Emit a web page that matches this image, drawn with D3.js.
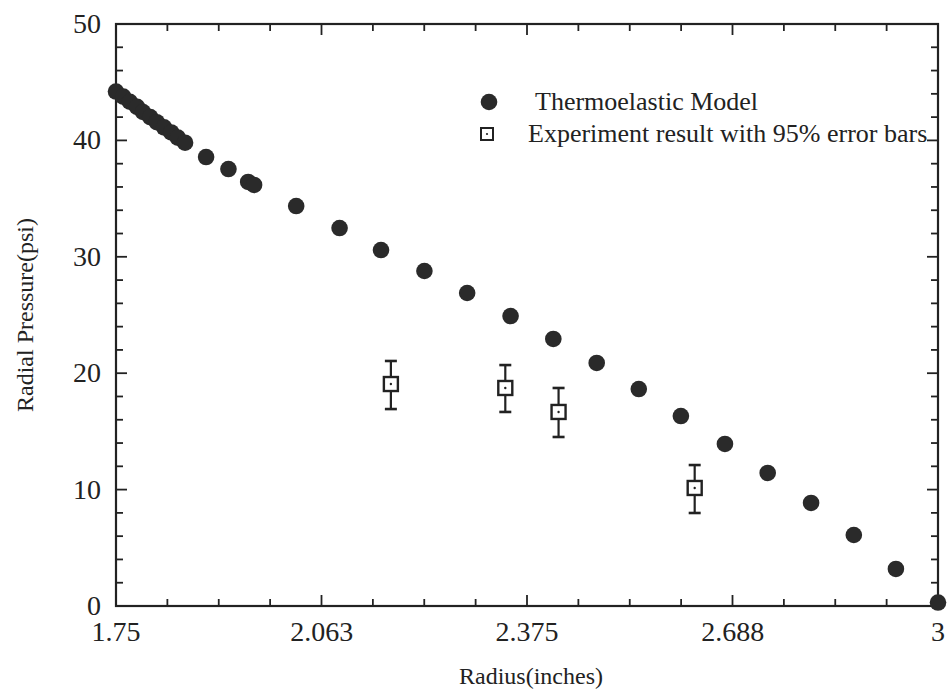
<!DOCTYPE html>
<html>
<head>
<meta charset="utf-8">
<script src="https://cdn.jsdelivr.net/npm/d3@7"></script>
<style>
  html, body { margin: 0; padding: 0; background: #fff; }
  svg text { font-family: "Liberation Serif", "DejaVu Serif", serif; fill: #222; }
</style>
</head>
<body>
<svg id="chart" width="949" height="693"></svg>
<script>
// Thermoelastic model: radius (inches) and radial pressure (psi)
const modelRadius = [1.750, 1.761, 1.771, 1.782, 1.791, 1.802, 1.812, 1.823, 1.834, 1.844, 1.855,
  1.887, 1.921, 1.951, 1.960, 2.024, 2.090, 2.153, 2.219, 2.284, 2.350, 2.415, 2.481,
  2.545, 2.609, 2.676, 2.741, 2.807, 2.872, 2.936, 3.000];
const modelPressure = [44.2, 43.76, 43.32, 42.88, 42.44, 42.0, 41.56, 41.12, 40.68, 40.24, 39.8,
  38.57, 37.54, 36.43, 36.17, 34.36, 32.47, 30.58, 28.78, 26.89, 24.91, 22.94, 20.88,
  18.64, 16.32, 13.92, 11.43, 8.85, 6.10, 3.18, 0.3];

// Experiment results with 95% error bars
const expRadius = [2.168, 2.342, 2.423, 2.630];
const expPressure = [19.07, 18.73, 16.67, 10.14];
const expLower = [16.92, 16.67, 14.52, 7.99];
const expUpper = [21.05, 20.70, 18.73, 12.11];

const xMajorTicks = [1.75, 2.063, 2.375, 2.688, 3];
const xTickLabels = ["1.75", "2.063", "2.375", "2.688", "3"];
const yMajorTicks = [0, 10, 20, 30, 40, 50];

const legendLabels = ["Thermoelastic Model", "Experiment result with 95% error bars"];

const svg = d3.select("#chart");
const plotL = 116, plotR = 938, plotT = 24, plotB = 606;
const ink = "#222";

const x = d3.scaleLinear().domain([1.75, 3]).range([plotL, plotR]);
const y = d3.scaleLinear().domain([0, 50]).range([plotB, plotT]);

const xMinor = d3.range(0, 17).map(i => 1.75 + i * 0.078125);
const yMinor = d3.range(0, 26).map(i => i * 2);

// frame
svg.append("rect")
  .attr("x", plotL).attr("y", plotT)
  .attr("width", plotR - plotL).attr("height", plotB - plotT)
  .attr("fill", "none").attr("stroke", ink).attr("stroke-width", 2.2);

// inward ticks on all four sides
function tickLen(isMajor) { return isMajor ? 11 : 7; }
const isXMajor = v => xMajorTicks.some(t => Math.abs(t - v) < 0.01);
const isYMajor = v => v % 10 === 0;

const ticks = svg.append("g").attr("stroke", ink).attr("stroke-width", 1.8);
xMinor.forEach(v => {
  const L = tickLen(isXMajor(v));
  ticks.append("line").attr("x1", x(v)).attr("x2", x(v)).attr("y1", plotB).attr("y2", plotB - L);
  ticks.append("line").attr("x1", x(v)).attr("x2", x(v)).attr("y1", plotT).attr("y2", plotT + L);
});
yMinor.forEach(v => {
  const L = tickLen(isYMajor(v));
  ticks.append("line").attr("y1", y(v)).attr("y2", y(v)).attr("x1", plotL).attr("x2", plotL + L);
  ticks.append("line").attr("y1", y(v)).attr("y2", y(v)).attr("x1", plotR).attr("x2", plotR - L);
});

// tick labels
svg.append("g").selectAll("text").data(xMajorTicks).join("text")
  .attr("x", d => x(d)).attr("y", plotB + 35)
  .attr("text-anchor", "middle").attr("font-size", 28)
  .text((d, i) => xTickLabels[i]);

svg.append("g").selectAll("text").data(yMajorTicks).join("text")
  .attr("x", plotL - 15).attr("y", d => y(d) + 9)
  .attr("text-anchor", "end").attr("font-size", 28)
  .text(d => d);

// axis titles
svg.append("text")
  .attr("x", 531).attr("y", 684)
  .attr("text-anchor", "middle").attr("font-size", 24)
  .text("Radius(inches)");

svg.append("text")
  .attr("transform", `translate(33, ${(plotT + plotB) / 2}) rotate(-90)`)
  .attr("text-anchor", "middle").attr("font-size", 24)
  .text("Radial Pressure(psi)");

// model points
svg.append("g").selectAll("circle").data(modelRadius).join("circle")
  .attr("cx", d => x(d)).attr("cy", (d, i) => y(modelPressure[i]))
  .attr("r", 8.3).attr("fill", "#2a2a2a");

// experiment error bars and squares
const exp = svg.append("g").attr("stroke", ink);
expRadius.forEach((r, i) => {
  const cx = x(r);
  exp.append("line").attr("x1", cx).attr("x2", cx)
    .attr("y1", y(expLower[i])).attr("y2", y(expUpper[i])).attr("stroke-width", 2.2);
  [expLower[i], expUpper[i]].forEach(v => {
    exp.append("line").attr("x1", cx - 6).attr("x2", cx + 6)
      .attr("y1", y(v)).attr("y2", y(v)).attr("stroke-width", 2.6);
  });
  exp.append("rect").attr("x", cx - 7).attr("y", y(expPressure[i]) - 7)
    .attr("width", 14).attr("height", 14).attr("fill", "#fff").attr("stroke-width", 2.4);
  exp.append("circle").attr("cx", cx).attr("cy", y(expPressure[i])).attr("r", 1.2)
    .attr("fill", ink).attr("stroke", "none");
});

// legend
const legend = svg.append("g");
legend.append("circle").attr("cx", 489).attr("cy", 102).attr("r", 8.3).attr("fill", "#2a2a2a");
legend.append("text").attr("x", 535).attr("y", 110).attr("font-size", 26).text(legendLabels[0]);
legend.append("rect").attr("x", 481).attr("y", 128).attr("width", 12).attr("height", 12)
  .attr("fill", "#fff").attr("stroke", ink).attr("stroke-width", 2);
legend.append("circle").attr("cx", 487).attr("cy", 134).attr("r", 1.1).attr("fill", ink);
legend.append("text").attr("x", 528).attr("y", 142).attr("font-size", 26).text(legendLabels[1]);
</script>
</body>
</html>
